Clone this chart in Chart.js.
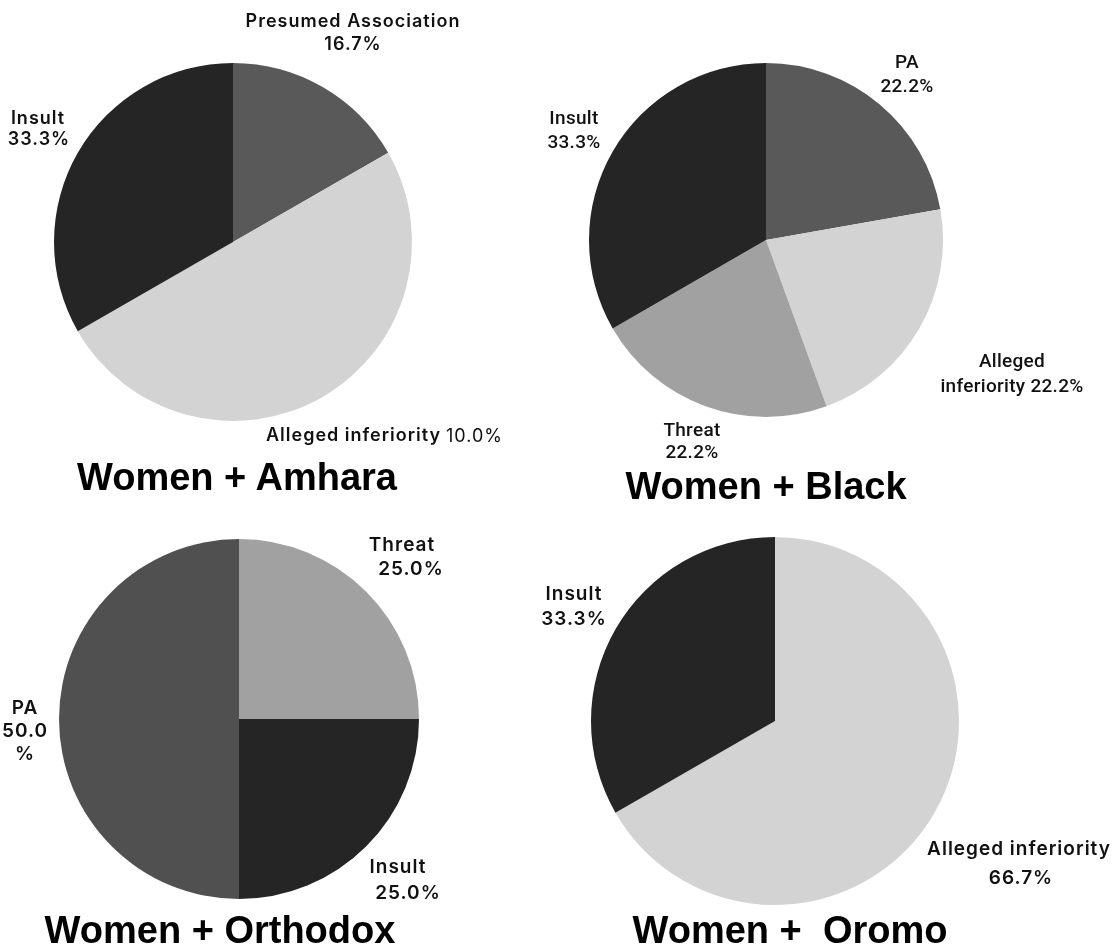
<!DOCTYPE html>
<html lang="en">
<head>
    <meta charset="UTF-8">
    <title>Women + ... pie charts</title>
    <script src="https://cdn.jsdelivr.net/npm/chart.js@4.4.0/dist/chart.umd.min.js"></script>
    <style>
        html, body { margin: 0; padding: 0; background: #fff; }
        #page { position: relative; width: 1115px; height: 947px; overflow: hidden; }
        #page canvas { position: absolute; left: 0; top: 0; }
        .title {
            position: absolute; width: 500px; text-align: center;
            font-family: "Liberation Sans", Arial, sans-serif; font-weight: bold;
            font-size: 38px; line-height: 40px; color: #000; white-space: pre;
        }
    </style>
</head>
<body>
<div id="page">
    <canvas id="amhara" width="1115" height="947"></canvas>
    <canvas id="black" width="1115" height="947"></canvas>
    <canvas id="orthodox" width="1115" height="947"></canvas>
    <canvas id="oromo" width="1115" height="947"></canvas>
</div>
<script>
    // data (slices go clockwise from 12 o'clock)
    var amharaCategories = ['Presumed Association', 'Alleged inferiority', 'Insult'];
    var amharaValues = [16.7, 50.0, 33.3];
    var amharaPercents = ['16.7%', '10.0%', '33.3%'];

    var blackCategories = ['PA', 'Alleged inferiority', 'Threat', 'Insult'];
    var blackValues = [22.2, 22.2, 22.2, 33.3];
    var blackPercents = ['22.2%', '22.2%', '22.2%', '33.3%'];

    var orthodoxCategories = ['Threat', 'Insult', 'PA'];
    var orthodoxValues = [25.0, 25.0, 50.0];
    var orthodoxPercents = ['25.0%', '25.0%', '50.0%'];

    var oromoCategories = ['Alleged inferiority', 'Insult'];
    var oromoValues = [66.7, 33.3];
    var oromoPercents = ['66.7%', '33.3%'];

    var W = 1115, H = 947;
    var GEO = 'Inter, sans-serif';
    var HELV = 'Roboto, sans-serif';

    // draws the text callouts next to the slices
    var calloutPlugin = {
        id: 'callouts',
        afterDraw: function(chart, args, opts) {
            var ctx = chart.ctx;
            ctx.save();
            ctx.fillStyle = '#111';
            ctx.textBaseline = 'middle';
            (opts.items || []).forEach(function(c) {
                ctx.font = (c.weight || opts.weight) + ' ' + opts.size + 'px ' + opts.family;
                ctx.letterSpacing = opts.spacing + 'px';
                ctx.textAlign = c.align || 'center';
                c.lines.forEach(function(line, i) {
                    var dx = c.dx ? c.dx[i] : 0;
                    ctx.fillText(line, c.x + dx, c.y + i * c.lh);
                });
            });
            ctx.restore();
        }
    };

    function makePie(id, categories, values, colors, cx, cy, r, font, items) {
        var ctx = document.getElementById(id).getContext('2d');
        return new Chart(ctx, {
            type: 'pie',
            data: {
                labels: categories,
                datasets: [{
                    data: values,
                    backgroundColor: colors,
                    borderWidth: 0,
                    hoverOffset: 0,
                    offset: 0
                }]
            },
            options: {
                responsive: false,
                animation: false,
                events: [],
                layout: {
                    padding: { left: cx - r, top: cy - r, right: W - cx - r, bottom: H - cy - r }
                },
                plugins: {
                    legend: { display: false },
                    tooltip: { enabled: false },
                    callouts: Object.assign({ items: items }, font)
                }
            },
            plugins: [calloutPlugin]
        });
    }

    var INSULT = '#252525', PA = '#595959', ALLEGED = '#d3d3d3', THREAT = '#a1a1a1';

    makePie('amhara', amharaCategories, amharaValues, [PA, ALLEGED, INSULT], 233, 242, 179,
        { family: GEO, size: 18, weight: 600, spacing: 1 }, [
        { x: 353, y: 22, lh: 23, lines: [amharaCategories[0], amharaPercents[0]] },
        { x: 38, y: 119, lh: 21, lines: [amharaCategories[2], amharaPercents[2]], dx: [0, 1] },
        { x: 266, y: 436, lh: 0, align: 'left', lines: [amharaCategories[1]] },
        { x: 446, y: 437, lh: 0, align: 'left', weight: 400, lines: [amharaPercents[1]] }
    ]);

    makePie('black', blackCategories, blackValues, [PA, ALLEGED, THREAT, INSULT], 766, 240, 177,
        { family: HELV, size: 19, weight: 500, spacing: 0.3 }, [
        { x: 907, y: 63, lh: 24, lines: [blackCategories[0], blackPercents[0]] },
        { x: 574, y: 119, lh: 24, lines: [blackCategories[3], blackPercents[3]] },
        { x: 1012, y: 362, lh: 25, lines: ['Alleged', 'inferiority ' + blackPercents[1]] },
        { x: 692, y: 431, lh: 22, lines: [blackCategories[2], blackPercents[2]] }
    ]);

    makePie('orthodox', orthodoxCategories, orthodoxValues, [THREAT, INSULT, '#505050'], 239, 719, 180,
        { family: GEO, size: 19, weight: 600, spacing: 1 }, [
        { x: 402, y: 545, lh: 24, lines: [orthodoxCategories[0], orthodoxPercents[0]], dx: [0, 9] },
        { x: 25, y: 708, lh: 23, lines: [orthodoxCategories[2], '50.0', '%'] },
        { x: 398, y: 867, lh: 26, lines: [orthodoxCategories[1], orthodoxPercents[1]], dx: [0, 10] }
    ]);

    makePie('oromo', oromoCategories, oromoValues, [ALLEGED, INSULT], 775, 721, 184,
        { family: GEO, size: 19, weight: 600, spacing: 1 }, [
        { x: 574, y: 594, lh: 25, lines: [oromoCategories[1], oromoPercents[1]] },
        { x: 1019, y: 849, lh: 29, lines: [oromoCategories[0], oromoPercents[0]], dx: [0, 2] }
    ]);

    // chart titles under each pie
    [['Women + Amhara', 237, 477], ['Women + Black', 766, 486],
     ['Women + Orthodox', 220, 930], ['Women +  Oromo', 790, 930]].forEach(function(t) {
        var d = document.createElement('div');
        d.className = 'title';
        d.textContent = t[0];
        d.style.left = (t[1] - 250) + 'px';
        d.style.top = (t[2] - 20) + 'px';
        document.getElementById('page').appendChild(d);
    });
</script>
</body>
</html>
